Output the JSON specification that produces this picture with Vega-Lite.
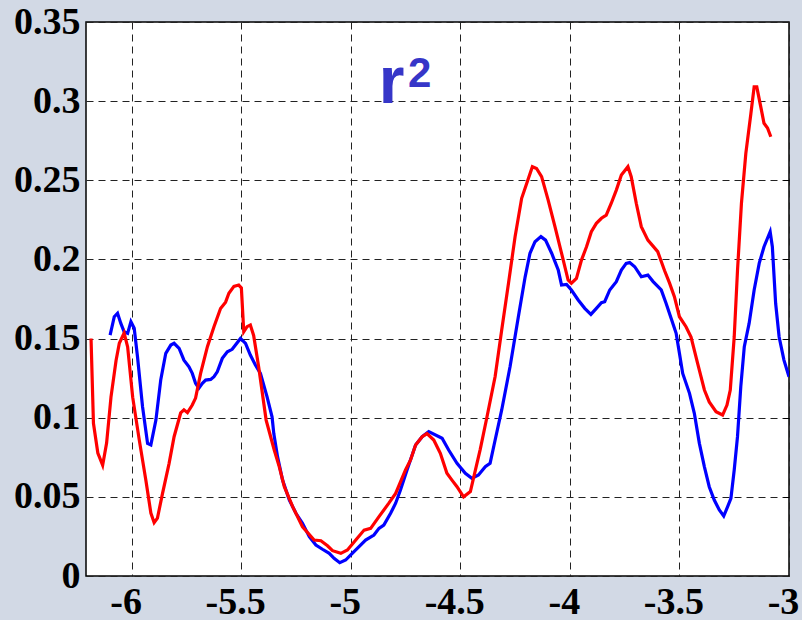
{
  "$schema": "https://vega.github.io/schema/vega-lite/v6.json",
  "width": 703,
  "height": 554,
  "autosize": {"type": "none"},
  "padding": {"left": 86, "top": 22, "right": 13, "bottom": 44},
  "background": "#d2d9e5",
  "config": {
    "view": {"fill": "white", "stroke": "black", "strokeWidth": 1.5},
    "axis": {
      "labelFont": "Liberation Serif",
      "labelFontWeight": "bold",
      "labelFontSize": 38,
      "labelColor": "black",
      "domain": false,
      "gridColor": "#222222",
      "gridDash": [7, 5],
      "gridWidth": 1,
      "gridOpacity": 1,
      "title": null
    }
  },
  "datasets": {
    "series": [
      {"x": -6.098, "r2": 0.1522, "s": "A"},
      {"x": -6.079, "r2": 0.1638, "s": "A"},
      {"x": -6.064, "r2": 0.166, "s": "A"},
      {"x": -6.049, "r2": 0.1596, "s": "A"},
      {"x": -6.034, "r2": 0.1543, "s": "A"},
      {"x": -6.018, "r2": 0.1533, "s": "A"},
      {"x": -6.003, "r2": 0.1607, "s": "A"},
      {"x": -5.988, "r2": 0.1565, "s": "A"},
      {"x": -5.973, "r2": 0.1385, "s": "A"},
      {"x": -5.95, "r2": 0.107, "s": "A"},
      {"x": -5.927, "r2": 0.0838, "s": "A"},
      {"x": -5.912, "r2": 0.0828, "s": "A"},
      {"x": -5.889, "r2": 0.0985, "s": "A"},
      {"x": -5.867, "r2": 0.1238, "s": "A"},
      {"x": -5.844, "r2": 0.1407, "s": "A"},
      {"x": -5.821, "r2": 0.1459, "s": "A"},
      {"x": -5.806, "r2": 0.147, "s": "A"},
      {"x": -5.783, "r2": 0.1438, "s": "A"},
      {"x": -5.761, "r2": 0.1364, "s": "A"},
      {"x": -5.738, "r2": 0.1322, "s": "A"},
      {"x": -5.723, "r2": 0.128, "s": "A"},
      {"x": -5.708, "r2": 0.1217, "s": "A"},
      {"x": -5.693, "r2": 0.1186, "s": "A"},
      {"x": -5.677, "r2": 0.1217, "s": "A"},
      {"x": -5.662, "r2": 0.1238, "s": "A"},
      {"x": -5.639, "r2": 0.1242, "s": "A"},
      {"x": -5.624, "r2": 0.1259, "s": "A"},
      {"x": -5.609, "r2": 0.129, "s": "A"},
      {"x": -5.586, "r2": 0.1375, "s": "A"},
      {"x": -5.563, "r2": 0.1417, "s": "A"},
      {"x": -5.541, "r2": 0.1432, "s": "A"},
      {"x": -5.526, "r2": 0.1459, "s": "A"},
      {"x": -5.503, "r2": 0.1501, "s": "A"},
      {"x": -5.48, "r2": 0.147, "s": "A"},
      {"x": -5.458, "r2": 0.1396, "s": "A"},
      {"x": -5.435, "r2": 0.1333, "s": "A"},
      {"x": -5.412, "r2": 0.128, "s": "A"},
      {"x": -5.382, "r2": 0.1133, "s": "A"},
      {"x": -5.359, "r2": 0.1006, "s": "A"},
      {"x": -5.351, "r2": 0.09, "s": "A"},
      {"x": -5.334, "r2": 0.0754, "s": "A"},
      {"x": -5.311, "r2": 0.0606, "s": "A"},
      {"x": -5.28, "r2": 0.048, "s": "A"},
      {"x": -5.25, "r2": 0.0396, "s": "A"},
      {"x": -5.22, "r2": 0.0333, "s": "A"},
      {"x": -5.189, "r2": 0.0248, "s": "A"},
      {"x": -5.159, "r2": 0.0196, "s": "A"},
      {"x": -5.129, "r2": 0.0169, "s": "A"},
      {"x": -5.098, "r2": 0.0143, "s": "A"},
      {"x": -5.076, "r2": 0.0112, "s": "A"},
      {"x": -5.05, "r2": 0.0084, "s": "A"},
      {"x": -5.023, "r2": 0.0101, "s": "A"},
      {"x": -4.993, "r2": 0.0143, "s": "A"},
      {"x": -4.962, "r2": 0.0185, "s": "A"},
      {"x": -4.932, "r2": 0.0227, "s": "A"},
      {"x": -4.894, "r2": 0.0259, "s": "A"},
      {"x": -4.871, "r2": 0.0301, "s": "A"},
      {"x": -4.849, "r2": 0.0322, "s": "A"},
      {"x": -4.818, "r2": 0.0396, "s": "A"},
      {"x": -4.795, "r2": 0.046, "s": "A"},
      {"x": -4.773, "r2": 0.0543, "s": "A"},
      {"x": -4.743, "r2": 0.067, "s": "A"},
      {"x": -4.704, "r2": 0.0828, "s": "A"},
      {"x": -4.674, "r2": 0.088, "s": "A"},
      {"x": -4.644, "r2": 0.0912, "s": "A"},
      {"x": -4.583, "r2": 0.087, "s": "A"},
      {"x": -4.553, "r2": 0.0796, "s": "A"},
      {"x": -4.515, "r2": 0.0712, "s": "A"},
      {"x": -4.477, "r2": 0.0649, "s": "A"},
      {"x": -4.447, "r2": 0.0617, "s": "A"},
      {"x": -4.417, "r2": 0.0638, "s": "A"},
      {"x": -4.386, "r2": 0.069, "s": "A"},
      {"x": -4.364, "r2": 0.0712, "s": "A"},
      {"x": -4.341, "r2": 0.0859, "s": "A"},
      {"x": -4.311, "r2": 0.1049, "s": "A"},
      {"x": -4.273, "r2": 0.1322, "s": "A"},
      {"x": -4.235, "r2": 0.1638, "s": "A"},
      {"x": -4.204, "r2": 0.189, "s": "A"},
      {"x": -4.182, "r2": 0.2039, "s": "A"},
      {"x": -4.159, "r2": 0.2112, "s": "A"},
      {"x": -4.132, "r2": 0.2144, "s": "A"},
      {"x": -4.111, "r2": 0.2122, "s": "A"},
      {"x": -4.083, "r2": 0.2039, "s": "A"},
      {"x": -4.053, "r2": 0.1933, "s": "A"},
      {"x": -4.038, "r2": 0.1838, "s": "A"},
      {"x": -4.015, "r2": 0.1842, "s": "A"},
      {"x": -3.993, "r2": 0.1807, "s": "A"},
      {"x": -3.962, "r2": 0.1744, "s": "A"},
      {"x": -3.932, "r2": 0.1691, "s": "A"},
      {"x": -3.904, "r2": 0.1653, "s": "A"},
      {"x": -3.879, "r2": 0.1691, "s": "A"},
      {"x": -3.856, "r2": 0.1727, "s": "A"},
      {"x": -3.841, "r2": 0.1733, "s": "A"},
      {"x": -3.818, "r2": 0.1807, "s": "A"},
      {"x": -3.788, "r2": 0.1859, "s": "A"},
      {"x": -3.765, "r2": 0.1933, "s": "A"},
      {"x": -3.743, "r2": 0.1975, "s": "A"},
      {"x": -3.727, "r2": 0.198, "s": "A"},
      {"x": -3.704, "r2": 0.1954, "s": "A"},
      {"x": -3.674, "r2": 0.1891, "s": "A"},
      {"x": -3.644, "r2": 0.1901, "s": "A"},
      {"x": -3.62, "r2": 0.186, "s": "A"},
      {"x": -3.583, "r2": 0.1807, "s": "A"},
      {"x": -3.561, "r2": 0.1723, "s": "A"},
      {"x": -3.538, "r2": 0.1628, "s": "A"},
      {"x": -3.515, "r2": 0.1533, "s": "A"},
      {"x": -3.5, "r2": 0.1407, "s": "A"},
      {"x": -3.485, "r2": 0.128, "s": "A"},
      {"x": -3.454, "r2": 0.1154, "s": "A"},
      {"x": -3.432, "r2": 0.1028, "s": "A"},
      {"x": -3.409, "r2": 0.0838, "s": "A"},
      {"x": -3.386, "r2": 0.069, "s": "A"},
      {"x": -3.364, "r2": 0.0564, "s": "A"},
      {"x": -3.341, "r2": 0.048, "s": "A"},
      {"x": -3.318, "r2": 0.0417, "s": "A"},
      {"x": -3.298, "r2": 0.0379, "s": "A"},
      {"x": -3.28, "r2": 0.0438, "s": "A"},
      {"x": -3.265, "r2": 0.049, "s": "A"},
      {"x": -3.25, "r2": 0.067, "s": "A"},
      {"x": -3.235, "r2": 0.088, "s": "A"},
      {"x": -3.22, "r2": 0.1196, "s": "A"},
      {"x": -3.204, "r2": 0.1449, "s": "A"},
      {"x": -3.182, "r2": 0.1596, "s": "A"},
      {"x": -3.159, "r2": 0.1807, "s": "A"},
      {"x": -3.136, "r2": 0.1975, "s": "A"},
      {"x": -3.114, "r2": 0.208, "s": "A"},
      {"x": -3.086, "r2": 0.2175, "s": "A"},
      {"x": -3.076, "r2": 0.208, "s": "A"},
      {"x": -3.061, "r2": 0.1723, "s": "A"},
      {"x": -3.045, "r2": 0.151, "s": "A"},
      {"x": -3.023, "r2": 0.1364, "s": "A"},
      {"x": -3.0, "r2": 0.1259, "s": "A"},
      {"x": -6.185, "r2": 0.15, "s": "B"},
      {"x": -6.174, "r2": 0.0965, "s": "B"},
      {"x": -6.154, "r2": 0.0777, "s": "B"},
      {"x": -6.132, "r2": 0.07, "s": "B"},
      {"x": -6.114, "r2": 0.084, "s": "B"},
      {"x": -6.094, "r2": 0.113, "s": "B"},
      {"x": -6.071, "r2": 0.136, "s": "B"},
      {"x": -6.056, "r2": 0.147, "s": "B"},
      {"x": -6.034, "r2": 0.1535, "s": "B"},
      {"x": -6.018, "r2": 0.1447, "s": "B"},
      {"x": -5.995, "r2": 0.113, "s": "B"},
      {"x": -5.965, "r2": 0.086, "s": "B"},
      {"x": -5.935, "r2": 0.0606, "s": "B"},
      {"x": -5.912, "r2": 0.0398, "s": "B"},
      {"x": -5.897, "r2": 0.0337, "s": "B"},
      {"x": -5.882, "r2": 0.0366, "s": "B"},
      {"x": -5.859, "r2": 0.052, "s": "B"},
      {"x": -5.829, "r2": 0.071, "s": "B"},
      {"x": -5.806, "r2": 0.088, "s": "B"},
      {"x": -5.776, "r2": 0.103, "s": "B"},
      {"x": -5.761, "r2": 0.105, "s": "B"},
      {"x": -5.745, "r2": 0.1032, "s": "B"},
      {"x": -5.723, "r2": 0.108, "s": "B"},
      {"x": -5.708, "r2": 0.1124, "s": "B"},
      {"x": -5.685, "r2": 0.128, "s": "B"},
      {"x": -5.654, "r2": 0.1449, "s": "B"},
      {"x": -5.624, "r2": 0.1575, "s": "B"},
      {"x": -5.594, "r2": 0.169, "s": "B"},
      {"x": -5.571, "r2": 0.173, "s": "B"},
      {"x": -5.556, "r2": 0.1786, "s": "B"},
      {"x": -5.533, "r2": 0.183, "s": "B"},
      {"x": -5.511, "r2": 0.1838, "s": "B"},
      {"x": -5.499, "r2": 0.182, "s": "B"},
      {"x": -5.488, "r2": 0.1543, "s": "B"},
      {"x": -5.473, "r2": 0.1575, "s": "B"},
      {"x": -5.458, "r2": 0.1586, "s": "B"},
      {"x": -5.443, "r2": 0.152, "s": "B"},
      {"x": -5.42, "r2": 0.132, "s": "B"},
      {"x": -5.386, "r2": 0.0985, "s": "B"},
      {"x": -5.349, "r2": 0.0796, "s": "B"},
      {"x": -5.326, "r2": 0.069, "s": "B"},
      {"x": -5.303, "r2": 0.0564, "s": "B"},
      {"x": -5.265, "r2": 0.0438, "s": "B"},
      {"x": -5.22, "r2": 0.0311, "s": "B"},
      {"x": -5.167, "r2": 0.0227, "s": "B"},
      {"x": -5.136, "r2": 0.0223, "s": "B"},
      {"x": -5.106, "r2": 0.0191, "s": "B"},
      {"x": -5.083, "r2": 0.016, "s": "B"},
      {"x": -5.045, "r2": 0.0143, "s": "B"},
      {"x": -5.015, "r2": 0.0164, "s": "B"},
      {"x": -4.977, "r2": 0.0227, "s": "B"},
      {"x": -4.939, "r2": 0.029, "s": "B"},
      {"x": -4.909, "r2": 0.0301, "s": "B"},
      {"x": -4.871, "r2": 0.0375, "s": "B"},
      {"x": -4.826, "r2": 0.046, "s": "B"},
      {"x": -4.795, "r2": 0.0522, "s": "B"},
      {"x": -4.75, "r2": 0.067, "s": "B"},
      {"x": -4.727, "r2": 0.0733, "s": "B"},
      {"x": -4.704, "r2": 0.0828, "s": "B"},
      {"x": -4.674, "r2": 0.088, "s": "B"},
      {"x": -4.652, "r2": 0.09, "s": "B"},
      {"x": -4.621, "r2": 0.0859, "s": "B"},
      {"x": -4.591, "r2": 0.0775, "s": "B"},
      {"x": -4.561, "r2": 0.0649, "s": "B"},
      {"x": -4.538, "r2": 0.0606, "s": "B"},
      {"x": -4.515, "r2": 0.0564, "s": "B"},
      {"x": -4.485, "r2": 0.05, "s": "B"},
      {"x": -4.454, "r2": 0.0533, "s": "B"},
      {"x": -4.409, "r2": 0.08, "s": "B"},
      {"x": -4.379, "r2": 0.1, "s": "B"},
      {"x": -4.341, "r2": 0.126, "s": "B"},
      {"x": -4.311, "r2": 0.1554, "s": "B"},
      {"x": -4.28, "r2": 0.185, "s": "B"},
      {"x": -4.25, "r2": 0.2143, "s": "B"},
      {"x": -4.22, "r2": 0.2386, "s": "B"},
      {"x": -4.197, "r2": 0.248, "s": "B"},
      {"x": -4.171, "r2": 0.2586, "s": "B"},
      {"x": -4.152, "r2": 0.2575, "s": "B"},
      {"x": -4.129, "r2": 0.2523, "s": "B"},
      {"x": -4.099, "r2": 0.2375, "s": "B"},
      {"x": -4.068, "r2": 0.2207, "s": "B"},
      {"x": -4.038, "r2": 0.204, "s": "B"},
      {"x": -4.008, "r2": 0.187, "s": "B"},
      {"x": -3.993, "r2": 0.185, "s": "B"},
      {"x": -3.97, "r2": 0.188, "s": "B"},
      {"x": -3.947, "r2": 0.1996, "s": "B"},
      {"x": -3.924, "r2": 0.208, "s": "B"},
      {"x": -3.902, "r2": 0.2175, "s": "B"},
      {"x": -3.879, "r2": 0.2228, "s": "B"},
      {"x": -3.856, "r2": 0.226, "s": "B"},
      {"x": -3.834, "r2": 0.228, "s": "B"},
      {"x": -3.811, "r2": 0.2355, "s": "B"},
      {"x": -3.788, "r2": 0.2438, "s": "B"},
      {"x": -3.765, "r2": 0.2533, "s": "B"},
      {"x": -3.735, "r2": 0.2586, "s": "B"},
      {"x": -3.72, "r2": 0.2523, "s": "B"},
      {"x": -3.697, "r2": 0.2355, "s": "B"},
      {"x": -3.674, "r2": 0.2207, "s": "B"},
      {"x": -3.644, "r2": 0.2122, "s": "B"},
      {"x": -3.599, "r2": 0.2049, "s": "B"},
      {"x": -3.568, "r2": 0.193, "s": "B"},
      {"x": -3.545, "r2": 0.185, "s": "B"},
      {"x": -3.523, "r2": 0.1765, "s": "B"},
      {"x": -3.5, "r2": 0.1638, "s": "B"},
      {"x": -3.47, "r2": 0.1575, "s": "B"},
      {"x": -3.447, "r2": 0.151, "s": "B"},
      {"x": -3.417, "r2": 0.1344, "s": "B"},
      {"x": -3.386, "r2": 0.1175, "s": "B"},
      {"x": -3.364, "r2": 0.11, "s": "B"},
      {"x": -3.333, "r2": 0.1038, "s": "B"},
      {"x": -3.303, "r2": 0.1017, "s": "B"},
      {"x": -3.283, "r2": 0.108, "s": "B"},
      {"x": -3.268, "r2": 0.1175, "s": "B"},
      {"x": -3.25, "r2": 0.151, "s": "B"},
      {"x": -3.235, "r2": 0.193, "s": "B"},
      {"x": -3.217, "r2": 0.2355, "s": "B"},
      {"x": -3.197, "r2": 0.267, "s": "B"},
      {"x": -3.174, "r2": 0.292, "s": "B"},
      {"x": -3.159, "r2": 0.309, "s": "B"},
      {"x": -3.147, "r2": 0.309, "s": "B"},
      {"x": -3.129, "r2": 0.2965, "s": "B"},
      {"x": -3.114, "r2": 0.286, "s": "B"},
      {"x": -3.098, "r2": 0.283, "s": "B"},
      {"x": -3.083, "r2": 0.2775, "s": "B"}
    ]
  },
  "layer": [
    {
      "data": {"name": "series"},
      "transform": [{"filter": "datum.s === 'A'"}],
      "mark": {"type": "line", "strokeWidth": 3.2, "clip": true, "color": "#0000ff"},
      "encoding": {
        "x": {
          "field": "x",
          "type": "quantitative",
          "scale": {"domain": [-6.208, -3], "nice": false, "zero": false},
          "axis": {
            "values": [-6, -5.5, -5, -4.5, -4, -3.5, -3],
            "format": "~g",
            "labelExpr": "replace(datum.label, '−', '-')",
            "ticks": false,
            "labelPadding": 7,
            "labelOffset": -6,
            "labelFlush": false,
            "grid": true
          }
        },
        "y": {
          "field": "r2",
          "type": "quantitative",
          "scale": {"domain": [0, 0.35], "nice": false},
          "axis": {
            "orient": "left",
            "values": [0, 0.05, 0.1, 0.15, 0.2, 0.25, 0.3, 0.35],
            "format": "~g",
            "ticks": false,
            "labelPadding": 6,
            "labelFlush": false,
            "grid": true
          }
        }
      }
    },
    {
      "data": {"name": "series"},
      "transform": [{"filter": "datum.s === 'B'"}],
      "mark": {"type": "line", "strokeWidth": 3.2, "clip": true, "color": "#ff0000"},
      "encoding": {
        "x": {
          "field": "x",
          "type": "quantitative",
          "axis": {
            "values": [-6, -5.5, -5, -4.5, -4, -3.5, -3],
            "format": "~g",
            "labelExpr": "replace(datum.label, '−', '-')",
            "ticks": false,
            "labelPadding": 7,
            "labelOffset": -6,
            "labelFlush": false,
            "grid": true
          }
        },
        "y": {
          "field": "r2",
          "type": "quantitative",
          "axis": {
            "orient": "right",
            "values": [0.05, 0.1, 0.15, 0.2, 0.25, 0.3],
            "labels": false,
            "ticks": true,
            "tickSize": -6,
            "tickColor": "black",
            "grid": false
          }
        }
      }
    },
    {
      "data": {"values": [{}]},
      "mark": {
        "type": "text",
        "text": "r",
        "font": "Liberation Sans",
        "fontWeight": "bold",
        "fontSize": 66,
        "color": "#3636c8",
        "align": "left",
        "baseline": "alphabetic"
      },
      "encoding": {
        "x": {
          "datum": -4.872,
          "type": "quantitative",
          "axis": {
            "values": [-6, -5.5, -5, -4.5, -4, -3.5, -3],
            "format": "~g",
            "labelExpr": "replace(datum.label, '−', '-')",
            "ticks": false,
            "labelPadding": 7,
            "labelOffset": -6,
            "labelFlush": false,
            "grid": true
          }
        },
        "y": {"datum": 0.2988, "type": "quantitative", "axis": null}
      }
    },
    {
      "data": {"values": [{}]},
      "mark": {
        "type": "text",
        "text": "2",
        "font": "Liberation Sans",
        "fontWeight": "bold",
        "fontSize": 42,
        "color": "#3636c8",
        "align": "left",
        "baseline": "alphabetic"
      },
      "encoding": {
        "x": {
          "datum": -4.739,
          "type": "quantitative",
          "axis": {
            "values": [-6, -5.5, -5, -4.5, -4, -3.5, -3],
            "format": "~g",
            "labelExpr": "replace(datum.label, '−', '-')",
            "ticks": false,
            "labelPadding": 7,
            "labelOffset": -6,
            "labelFlush": false,
            "grid": true
          }
        },
        "y": {"datum": 0.3089, "type": "quantitative", "axis": null}
      }
    }
  ],
  "resolve": {"axis": {"y": "independent"}}
}
